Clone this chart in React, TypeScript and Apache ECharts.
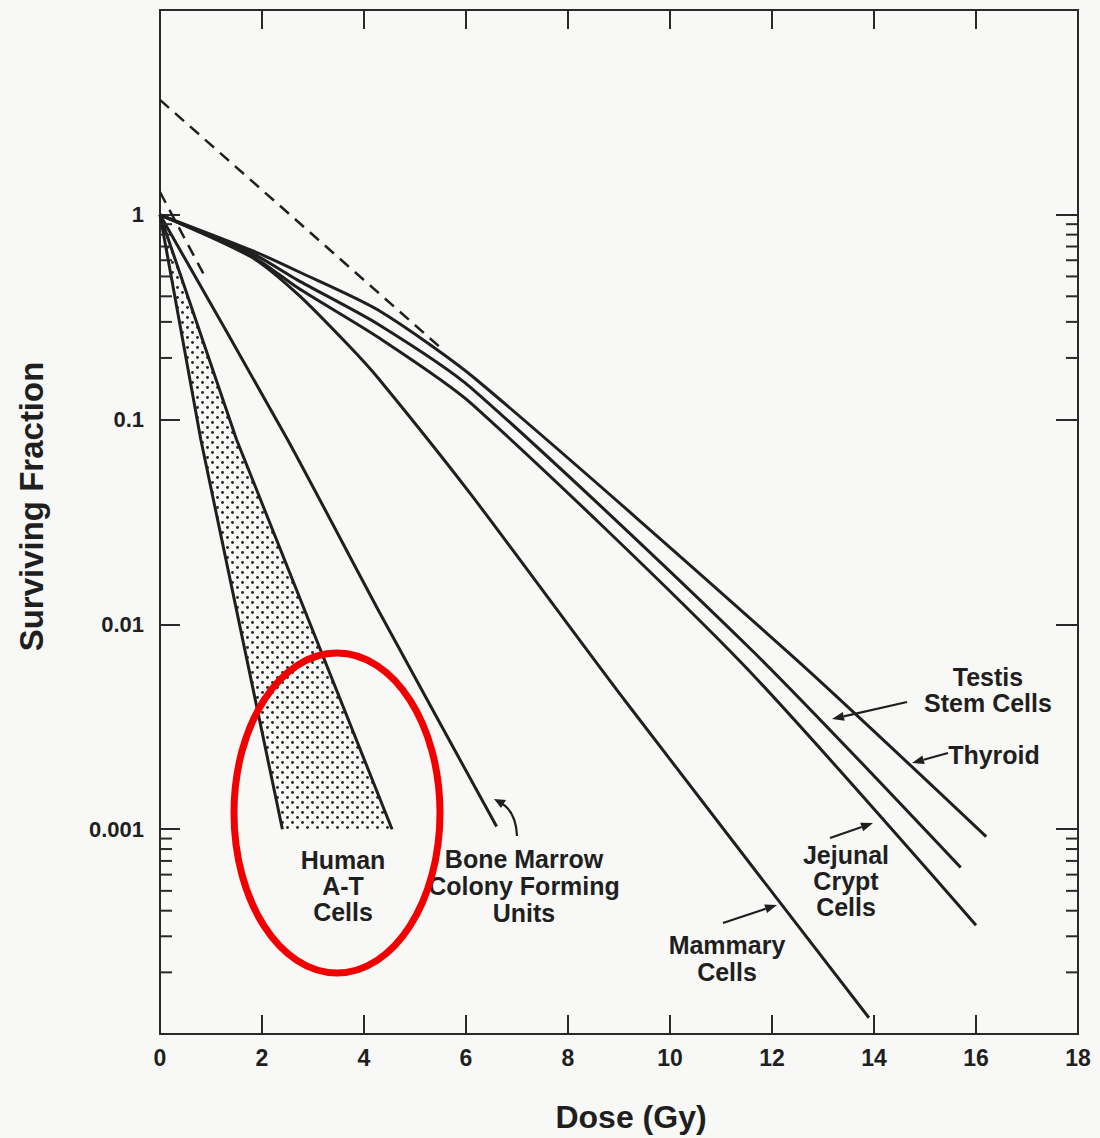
import React, { useEffect, useRef } from 'react';
import * as echarts from 'echarts';

// ---------- axis values ----------
const DOSE_MIN = 0;
const DOSE_MAX = 18;
const DOSE_STEP = 2;
const SF_MIN = 0.0001;
const SF_MAX = 10;
const Y_TICK_VALUES = [0.001, 0.01, 0.1, 1];
const Y_TICK_LABELS = ['0.001', '0.01', '0.1', '1'];
const MINOR_TICK_VALUES = [
  0.9, 0.8, 0.7, 0.6, 0.5, 0.4, 0.3, 0.2,
  0.0009, 0.0008, 0.0007, 0.0006, 0.0005, 0.0004, 0.0003, 0.0002,
];

// ---------- survival curves (dose in Gy, surviving fraction) ----------
const DOSE_AT_SENSITIVE = [0, 0.8, 2.4];
const SF_AT_SENSITIVE = [1, 0.08, 0.001];
const DOSE_AT_RESISTANT = [0, 1.5, 4.55];
const SF_AT_RESISTANT = [1, 0.08, 0.001];

const DOSE_BONE_MARROW = [0, 2.5, 4.3, 6.6];
const SF_BONE_MARROW = [1, 0.08, 0.0115, 0.00103];

const DOSE_MAMMARY = [0, 1.8, 2.7, 3.7, 4.3, 6.1, 9.1, 13.9];
const SF_MAMMARY = [1, 0.62, 0.41, 0.23, 0.157, 0.043, 0.0043, 0.00012];

const DOSE_JEJUNAL = [0, 1.8, 2.7, 4.3, 6.1, 11.4, 16.0];
const SF_JEJUNAL = [1, 0.63, 0.44, 0.25, 0.12, 0.0065, 0.00034];

const DOSE_TESTIS = [0, 1.8, 2.7, 4.3, 6.1, 11.6, 15.7];
const SF_TESTIS = [1, 0.65, 0.48, 0.29, 0.143, 0.0075, 0.00065];

const DOSE_THYROID = [0, 1.8, 2.7, 4.3, 6.2, 12.4, 16.2];
const SF_THYROID = [1, 0.67, 0.53, 0.34, 0.157, 0.007, 0.00092];

// extrapolation (dashed) lines
const DOSE_EXTRAP_SHOULDER = [0, 5.55];
const SF_EXTRAP_SHOULDER = [3.64, 0.219];
const DOSE_EXTRAP_MARROW = [0, 0.88];
const SF_EXTRAP_MARROW = [1.29, 0.5];

const FONT = '"Liberation Sans", Arial, Helvetica, sans-serif';
const INK = '#1f1f1f';

function pairs(xs: number[], ys: number[]) {
  return xs.map((x, i) => [x, ys[i]]);
}

function curve(name: string, xs: number[], ys: number[], smooth: number | boolean = 0.25) {
  return {
    name,
    type: 'line',
    data: pairs(xs, ys),
    symbol: 'none',
    showSymbol: false,
    silent: true,
    smooth,
    z: 4,
    lineStyle: { color: INK, width: 3 },
  };
}

function dashed(name: string, xs: number[], ys: number[]) {
  return {
    name,
    type: 'line',
    data: pairs(xs, ys),
    symbol: 'none',
    showSymbol: false,
    silent: true,
    z: 4,
    lineStyle: { color: INK, width: 2.5, type: [12, 8] },
  };
}

function arrow(x1: number, y1: number, x2: number, y2: number) {
  const a = Math.atan2(y2 - y1, x2 - x1);
  const len = 12;
  const w = 4.5;
  const bx = x2 - len * Math.cos(a);
  const by = y2 - len * Math.sin(a);
  const px = -Math.sin(a) * w;
  const py = Math.cos(a) * w;
  return [
    {
      type: 'line',
      shape: { x1, y1, x2: bx, y2: by },
      style: { stroke: INK, lineWidth: 2.2 },
      z: 50,
    },
    {
      type: 'polygon',
      shape: { points: [[x2, y2], [bx + px, by + py], [bx - px, by - py]] },
      style: { fill: INK },
      z: 50,
    },
  ];
}

function label(text: string, x: number, y: number, lineHeight = 26) {
  return {
    type: 'text',
    x,
    y,
    z: 50,
    style: {
      text,
      fill: INK,
      fontSize: 25,
      fontWeight: 'bold',
      fontFamily: FONT,
      align: 'center',
      verticalAlign: 'top',
      lineHeight,
    },
  };
}

export default function App() {
  const ref = useRef<HTMLDivElement>(null);

  useEffect(() => {
    if (!ref.current) return;
    const chart = echarts.init(ref.current, undefined, { renderer: 'svg' });

    const tile = document.createElement('canvas');
    tile.width = 10;
    tile.height = 10;
    const ctx = tile.getContext('2d');
    if (ctx) {
      ctx.fillStyle = '#262626';
      [[2.5, 2.5], [7.5, 7.5]].forEach(([cx, cy]) => {
        ctx.beginPath();
        ctx.arc(cx, cy, 1.45, 0, Math.PI * 2);
        ctx.fill();
      });
    }
    const stipple = { image: tile, repeat: 'repeat', imageWidth: 10, imageHeight: 10 };

    const axisLine = { show: true, onZero: false, lineStyle: { color: '#2a2a2a', width: 2 } };
    const tickStyle = { color: '#2a2a2a', width: 2 };
    const labelStyle = { color: INK, fontSize: 22, fontWeight: 'bold', fontFamily: FONT };

    const yLabel = (v: number) => {
      const i = Y_TICK_VALUES.findIndex((t) => Math.abs(Math.log10(t) - Math.log10(v)) < 1e-6);
      return i >= 0 ? Y_TICK_LABELS[i] : '';
    };

    const option: any = {
      animation: false,
      backgroundColor: '#f8f8f6',
      grid: { left: 160, top: 10, width: 918, height: 1025 },
      xAxis: [
        {
          type: 'value',
          min: DOSE_MIN,
          max: DOSE_MAX,
          interval: DOSE_STEP,
          position: 'bottom',
          axisLine,
          axisTick: { show: true, inside: true, length: 19, lineStyle: tickStyle },
          axisLabel: { ...labelStyle, fontSize: 23, margin: 12 },
          splitLine: { show: false },
          name: 'Dose (Gy)',
          nameLocation: 'middle',
          nameGap: 67,
          nameTextStyle: { color: INK, fontSize: 32, fontWeight: 'bold', fontFamily: FONT, padding: [0, 0, 0, 24] },
        },
        {
          type: 'value',
          min: DOSE_MIN,
          max: DOSE_MAX,
          interval: DOSE_STEP,
          position: 'top',
          axisLine,
          axisTick: { show: true, inside: true, length: 19, lineStyle: tickStyle },
          axisLabel: { show: false },
          splitLine: { show: false },
        },
      ],
      yAxis: [
        {
          type: 'log',
          logBase: 10,
          min: SF_MIN,
          max: SF_MAX,
          position: 'left',
          axisLine,
          axisTick: { show: true, inside: true, length: 20, lineStyle: tickStyle },
          axisLabel: { ...labelStyle, margin: 16, formatter: yLabel },
          splitLine: { show: false },
          name: 'Surviving Fraction',
          nameLocation: 'middle',
          nameGap: 112,
          nameTextStyle: { color: INK, fontSize: 33, fontWeight: 'bold', fontFamily: FONT, padding: [0, 0, 0, 31] },
        },
        {
          type: 'log',
          logBase: 10,
          min: SF_MIN,
          max: SF_MAX,
          position: 'right',
          axisLine,
          axisTick: { show: true, inside: true, length: 22, lineStyle: tickStyle },
          axisLabel: { show: false },
          splitLine: { show: false },
        },
      ],
      series: [
        {
          name: 'Human A-T Cells band',
          type: 'custom',
          silent: true,
          z: 2,
          data: [[0, 1]],
          renderItem: (_params: any, api: any) => {
            const pts: number[][] = [];
            DOSE_AT_SENSITIVE.forEach((d, i) => pts.push(api.coord([d, SF_AT_SENSITIVE[i]])));
            for (let i = DOSE_AT_RESISTANT.length - 1; i >= 0; i--) {
              pts.push(api.coord([DOSE_AT_RESISTANT[i], SF_AT_RESISTANT[i]]));
            }
            return { type: 'polygon', shape: { points: pts }, style: { fill: stipple, stroke: null } };
          },
        },
        {
          name: 'minor ticks',
          type: 'custom',
          silent: true,
          z: 5,
          data: MINOR_TICK_VALUES.map((v) => [DOSE_MIN, v]),
          renderItem: (_params: any, api: any) => {
            const v = api.value(1);
            const pl = api.coord([DOSE_MIN, v]);
            const pr = api.coord([DOSE_MAX, v]);
            return {
              type: 'group',
              children: [
                { type: 'line', shape: { x1: pl[0], y1: pl[1], x2: pl[0] + 12, y2: pl[1] }, style: { stroke: '#2a2a2a', lineWidth: 2 } },
                { type: 'line', shape: { x1: pr[0] - 12, y1: pr[1], x2: pr[0], y2: pr[1] }, style: { stroke: '#2a2a2a', lineWidth: 2 } },
              ],
            };
          },
        },
        curve('Human A-T Cells (sensitive edge)', DOSE_AT_SENSITIVE, SF_AT_SENSITIVE, false),
        curve('Human A-T Cells (resistant edge)', DOSE_AT_RESISTANT, SF_AT_RESISTANT, false),
        curve('Bone Marrow Colony Forming Units', DOSE_BONE_MARROW, SF_BONE_MARROW, 0.2),
        curve('Mammary Cells', DOSE_MAMMARY, SF_MAMMARY),
        curve('Jejunal Crypt Cells', DOSE_JEJUNAL, SF_JEJUNAL),
        curve('Testis Stem Cells', DOSE_TESTIS, SF_TESTIS),
        curve('Thyroid', DOSE_THYROID, SF_THYROID),
        dashed('Shoulder extrapolation', DOSE_EXTRAP_SHOULDER, SF_EXTRAP_SHOULDER),
        dashed('Marrow extrapolation', DOSE_EXTRAP_MARROW, SF_EXTRAP_MARROW),
      ],
      graphic: [
        label('Testis\nStem Cells', 988, 664),
        label('Thyroid', 994, 742),
        label('Jejunal\nCrypt\nCells', 846, 842),
        label('Mammary\nCells', 727, 931, 27),
        label('Human\nA-T\nCells', 343, 847),
        label('Bone Marrow\nColony Forming\nUnits', 524, 845, 27),
        ...arrow(907, 702, 832, 719),
        ...arrow(948, 753, 912, 763),
        ...arrow(830, 838, 873, 823),
        ...arrow(723, 923, 777, 905),
        {
          type: 'bezierCurve',
          shape: { x1: 517, y1: 836, cpx1: 516, cpy1: 810, x2: 499, y2: 802 },
          style: { stroke: INK, lineWidth: 2.2, fill: 'none' },
          z: 50,
        },
        {
          type: 'polygon',
          shape: { points: [[494, 799], [506, 800], [501, 808]] },
          style: { fill: INK },
          z: 50,
        },
        {
          type: 'ellipse',
          shape: { cx: 337, cy: 813, rx: 103, ry: 160 },
          style: { fill: 'none', stroke: '#f20000', lineWidth: 7 },
          z: 100,
        },
      ],
    };

    chart.setOption(option);
    return () => chart.dispose();
  }, []);

  return (
    <div
      ref={ref}
      style={{ position: 'absolute', left: 0, top: 0, width: 1100, height: 1138 }}
    />
  );
}
